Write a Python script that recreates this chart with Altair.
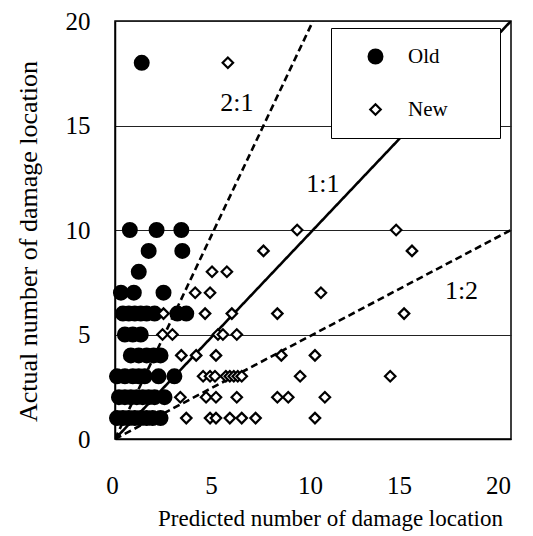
import altair as alt
import pandas as pd

# Old (filled circles): x = predicted, y = actual
old_x = [1.35,
         0.75, 2.1, 3.35,
         1.7, 3.4,
         1.2,
         0.3, 0.95, 2.45,
         0.4, 0.7, 1.0, 1.3, 1.6, 2.0, 3.15, 3.6,
         0.5, 0.9, 1.3,
         0.8, 1.2, 1.6, 1.95, 2.3,
         0.1, 0.5, 0.9, 1.2, 1.5, 2.2, 3.0,
         0.2, 0.5, 0.8, 1.1, 1.4, 1.7, 2.0, 2.5,
         0.1, 0.4, 0.7, 1.0, 1.3, 1.6, 1.9, 2.3]
old_y = [18,
         10, 10, 10,
         9, 9,
         8,
         7, 7, 7,
         6, 6, 6, 6, 6, 6, 6, 6,
         5, 5, 5,
         4, 4, 4, 4, 4,
         3, 3, 3, 3, 3, 3, 3,
         2, 2, 2, 2, 2, 2, 2, 2,
         1, 1, 1, 1, 1, 1, 1, 1]

# New (open diamonds)
new_x = [5.7,
         9.2, 14.2,
         7.5, 15.0,
         4.9, 5.65,
         4.05, 4.8, 10.4,
         2.45, 4.55, 5.9, 8.2, 14.6,
         2.4, 2.9, 5.2, 5.45, 6.15,
         3.35, 4.1, 5.1, 8.4, 10.1,
         4.45, 4.8, 5.05, 5.6, 5.8, 6.0, 6.2, 6.4, 9.35, 13.9,
         3.3, 4.6, 5.1, 6.15, 8.2, 8.75, 10.6,
         3.6, 4.8, 5.1, 5.8, 6.4, 7.1, 10.1]
new_y = [18,
         10, 10,
         9, 9,
         8, 8,
         7, 7, 7,
         6, 6, 6, 6, 6,
         5, 5, 5, 5, 5,
         4, 4, 4, 4, 4,
         3, 3, 3, 3, 3, 3, 3, 3, 3, 3,
         2, 2, 2, 2, 2, 2, 2,
         1, 1, 1, 1, 1, 1, 1]

# Reference ratio lines (start at origin)
ratio_names = ["2:1", "1:1", "1:2"]
ratio_end_x = [10, 20, 20]
ratio_end_y = [20, 20, 10]
# Where the ratio labels sit (data units)
label_x = [6.15, 10.5, 17.5]
label_y = [16.1, 12.2, 7.1]

axis_ticks = [0, 5, 10, 15, 20]
FONT = "Liberation Serif"

pts = pd.DataFrame({
    "x": old_x + new_x,
    "y": old_y + new_y,
    "Group": ["Old"] * len(old_x) + ["New"] * len(new_x),
    "order_key": [0] * len(old_x) + [1] * len(new_x),
})
line_rows = []
for n, ex, ey in zip(ratio_names, ratio_end_x, ratio_end_y):
    line_rows.append({"ratio": n, "x": 0, "y": 0})
    line_rows.append({"ratio": n, "x": ex, "y": ey})
lines_df = pd.DataFrame(line_rows)
labels_df = pd.DataFrame({"ratio": ratio_names, "x": label_x, "y": label_y})

xs = alt.Scale(domain=[0, 20], nice=False, zero=False)
ys = alt.Scale(domain=[0, 20], nice=False, zero=False)

x_axis = alt.Axis(values=axis_ticks, grid=False, ticks=False, tickSize=0,
                  labelFont=FONT, labelFontSize=25, labelPadding=34,
                  labelOffset={"condition": {"test": "datum.value >= 15", "value": -13}, "value": -3},
                  labelColor="black", labelFlush=False,
                  domainColor="black", domainWidth=1.5,
                  title="Predicted number of damage location",
                  titleFont=FONT, titleFontSize=23, titleFontWeight="normal",
                  titleColor="black", titleX=215, titleY=86,
                  titleBaseline="alphabetic", titleAlign="center")
y_axis = alt.Axis(values=axis_ticks, grid=True, gridColor="#222222", gridWidth=1,
                  ticks=False, tickSize=0,
                  labelFont=FONT, labelFontSize=25, labelPadding=25,
                  labelColor="black", labelFlush=False,
                  domainColor="black", domainWidth=1.5,
                  title="Actual number of damage location",
                  titleFont=FONT, titleFontSize=26, titleFontWeight="normal",
                  titleColor="black", titleX=-79, titleY=220, titleAngle=-90,
                  titleBaseline="alphabetic", titleAlign="center")

legend = alt.Legend(title="\u00a0", titleOrient="right", titlePadding=34, titleFontSize=21,
                    orient="none", legendX=216, legendY=7,
                    padding=18, fillColor="white", strokeColor="black",
                    labelFont=FONT, labelFontSize=21, labelColor="black",
                    symbolStrokeWidth=2.2, symbolStrokeColor="black",
                    symbolOffset=16, labelOffset=22, rowPadding=30)

grp_domain = ["Old", "New"]

points = alt.Chart(pts).mark_point(filled=True, strokeWidth=2.2, opacity=1).encode(
    x=alt.X("x:Q", scale=xs, axis=x_axis),
    y=alt.Y("y:Q", scale=ys, axis=y_axis),
    shape=alt.Shape("Group:N", scale=alt.Scale(domain=grp_domain, range=["circle", "diamond"]), legend=legend),
    fill=alt.Fill("Group:N", scale=alt.Scale(domain=grp_domain, range=["black", "white"]), legend=legend),
    stroke=alt.Stroke("Group:N", scale=alt.Scale(domain=grp_domain, range=["black", "black"]), legend=legend),
    size=alt.Size("Group:N", scale=alt.Scale(domain=grp_domain, range=[190, 110]), legend=legend),
    order=alt.Order("order_key:Q"),
)

lines = alt.Chart(lines_df).mark_line(color="black", strokeWidth=2.6, clip=True).encode(
    x=alt.X("x:Q", scale=xs),
    y=alt.Y("y:Q", scale=ys),
    detail="ratio:N",
    strokeDash=alt.StrokeDash("ratio:N", scale=alt.Scale(domain=ratio_names, range=[[7, 4], [1, 0], [7, 4]]), legend=None),
)

texts = alt.Chart(labels_df).mark_text(font=FONT, fontSize=26, color="black").encode(
    x=alt.X("x:Q", scale=xs),
    y=alt.Y("y:Q", scale=ys),
    text="ratio:N",
)

chart = alt.layer(lines, texts, points).properties(
    width=396, height=418,
    autosize=alt.AutoSizeParams(type="none"),
    padding={"left": 115, "top": 21, "right": 22, "bottom": 96},
    background="white",
).configure_view(stroke="black", strokeWidth=1.5)

chart.save("out.html", embed_options={"renderer": "svg", "actions": False})
